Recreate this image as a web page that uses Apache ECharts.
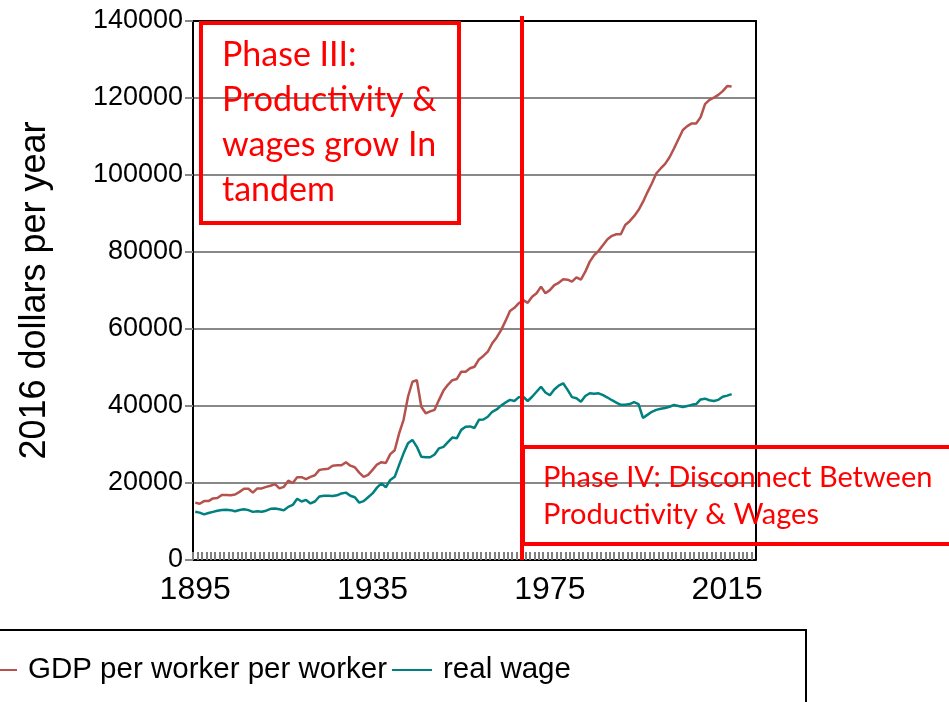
<!DOCTYPE html>
<html>
<head>
<meta charset="utf-8">
<script src="https://cdn.jsdelivr.net/npm/echarts@6/dist/echarts.min.js"></script>
<style>
  html, body { margin: 0; padding: 0; background: #fff; }
  #chart { width: 949px; height: 702px; }
</style>
</head>
<body>
<div id="chart"></div>
<script>
// years on the category axis (axis runs a few years past the data)
const years = [];
for (let y = 1895; y <= 2021; y++) years.push(String(y));

// GDP per worker, 2016 dollars, 1895-2016
const gdpPerWorker = [
  14900, 14600, 15300, 15300, 16000, 16100, 16900, 16900, 16800, 17000,
  17700, 18500, 18500, 17500, 18600, 18600, 19000, 19300, 19700, 18600,
  19000, 20600, 20000, 21500, 21500, 21000, 21600, 22000, 23400, 23600,
  23700, 24500, 24600, 24600, 25400, 24500, 24100, 22700, 21600, 22100,
  23400, 24800, 25400, 25200, 27500, 28500, 32900, 36400, 42400, 46300,
  46700, 39800, 38100, 38600, 39000, 41600, 44000, 45500, 46700, 47000,
  48900, 48900, 49800, 50200, 52100, 53000, 54100, 56300, 57800, 59700,
  62100, 64700, 65500, 66700, 67500, 66800, 68400, 69300, 71000, 69300,
  70100, 71400, 72000, 72900, 72800, 72300, 73400, 72800, 74900, 77500,
  79200, 80300, 81800, 83300, 84200, 84600, 84600, 87000, 88000, 89300,
  90900, 93000, 95500, 97800, 100400, 101700, 102900, 104600, 106900, 109300,
  111700, 112700, 113400, 113400, 115000, 118400, 119500, 120100, 120800, 121800,
  123100, 123000
];

// real wage, 2016 dollars, 1895-2016
const realWage = [
  12550, 12300, 11850, 12200, 12500, 12800, 13000, 13070, 12950, 12650,
  13000, 13200, 12950, 12500, 12650, 12550, 12800, 13300, 13400, 13200,
  12900, 13800, 14300, 15900, 15200, 15600, 14700, 15200, 16500, 16700,
  16700, 16600, 16800, 17300, 17500, 16700, 16300, 14900, 15300, 16300,
  17300, 18800, 19900, 18900, 20800, 21600, 24700, 27700, 30300, 31200,
  29400, 26800, 26700, 26700, 27400, 29000, 29400, 30600, 31800, 31600,
  33800, 34600, 34700, 34300, 36400, 36500, 37200, 38500, 39100, 40100,
  40900, 41600, 41300, 42300, 42400, 41300, 42400, 43700, 45000, 43500,
  42800, 44300, 45300, 45900, 44200, 42300, 42000, 41100, 42600, 43300,
  43200, 43300, 42800, 42200, 41500, 40900, 40300, 40300, 40500, 41000,
  40500, 36900, 37700, 38500, 39000, 39300, 39500, 39800, 40300, 40000,
  39700, 40000, 40300, 40500, 41700, 41900, 41500, 41300, 41600, 42400,
  42700, 43100
];

const seriesNames = ['GDP per worker per worker', 'real wage'];
const phase3Text = 'Phase III:\nProductivity &\nwages grow In\ntandem';
const phase4Text = 'Phase IV: Disconnect Between\nProductivity & Wages';

const chart = echarts.init(document.getElementById('chart'));

const option = {
  animation: false,
  backgroundColor: '#fff',
  grid: { left: 193, right: 193, top: 21, bottom: 142, show: false },
  legend: {
    left: -28,
    top: 650,
    itemWidth: 40,
    itemHeight: 14,
    itemGap: 5,
    icon: 'path://M0,6 L40,6 L40,8 L0,8 Z',
    textStyle: {
      fontFamily: 'Liberation Sans, Arial',
      fontSize: 29.5,
      color: '#000',
      padding: [0, 0, 0, 6]
    },
    data: seriesNames
  },
  xAxis: {
    type: 'category',
    data: years,
    boundaryGap: true,
    axisLine: { lineStyle: { color: '#000', width: 2 } },
    axisTick: {
      show: true, inside: true, interval: 0, length: 8,
      lineStyle: { color: '#808080', width: 2 }
    },
    axisLabel: {
      interval: 39,
      fontFamily: 'Liberation Sans, Arial',
      fontSize: 32,
      color: '#000',
      margin: 14
    },
    splitLine: { show: false }
  },
  yAxis: {
    type: 'value',
    min: 0,
    max: 140000,
    interval: 20000,
    name: '2016 dollars per year',
    nameLocation: 'middle',
    nameRotate: 90,
    nameGap: 140,
    nameTextStyle: {
      fontFamily: 'Liberation Sans, Arial',
      fontSize: 36,
      color: '#000'
    },
    axisLine: { show: true, lineStyle: { color: '#000', width: 2 } },
    axisTick: { show: true, length: 8, lineStyle: { color: '#888', width: 2 } },
    axisLabel: {
      fontFamily: 'Liberation Sans, Arial',
      fontSize: 27,
      color: '#000',
      margin: 10,
      formatter: v => String(v)
    },
    splitLine: { lineStyle: { color: '#888', width: 2 } }
  },
  series: [
    {
      name: seriesNames[0],
      type: 'line',
      data: gdpPerWorker,
      symbol: 'none',
      lineStyle: { color: '#b5524e', width: 2.5 },
      itemStyle: { color: '#b5524e' },
      z: 3
    },
    {
      name: seriesNames[1],
      type: 'line',
      data: realWage,
      symbol: 'none',
      lineStyle: { color: '#008080', width: 2.5 },
      itemStyle: { color: '#008080' },
      z: 3
    }
  ],
  graphic: [
    // plot area border (top and right)
    {
      type: 'polyline', z: 5,
      shape: { points: [[193, 21], [756, 21], [756, 560]] },
      style: { stroke: '#000', lineWidth: 2, fill: null }
    },
    // legend frame
    {
      type: 'rect', z: 5,
      shape: { x: -10, y: 630, width: 816, height: 100 },
      style: { stroke: '#000', lineWidth: 2, fill: null }
    },
    // phase divider
    {
      type: 'line', z: 10,
      shape: { x1: 522, y1: 16, x2: 522, y2: 560 },
      style: { stroke: '#ff0000', lineWidth: 4 }
    },
    // Phase III box
    {
      type: 'rect', z: 10,
      shape: { x: 201, y: 23, width: 258, height: 200 },
      style: { stroke: '#ff0000', lineWidth: 4, fill: null }
    },
    {
      type: 'text', z: 10, left: 222, top: 33,
      style: {
        text: phase3Text, fill: '#ff0000',
        font: '34px Lato, "Open Sans", sans-serif', lineHeight: 45
      }
    },
    // Phase IV box
    {
      type: 'rect', z: 10,
      shape: { x: 523, y: 447, width: 440, height: 97 },
      style: { stroke: '#ff0000', lineWidth: 4, fill: null }
    },
    {
      type: 'text', z: 10, left: 543, top: 459,
      style: {
        text: phase4Text, fill: '#ff0000',
        font: '29px Lato, "Open Sans", sans-serif', lineHeight: 37
      }
    }
  ]
};

chart.setOption(option);
</script>
</body>
</html>
